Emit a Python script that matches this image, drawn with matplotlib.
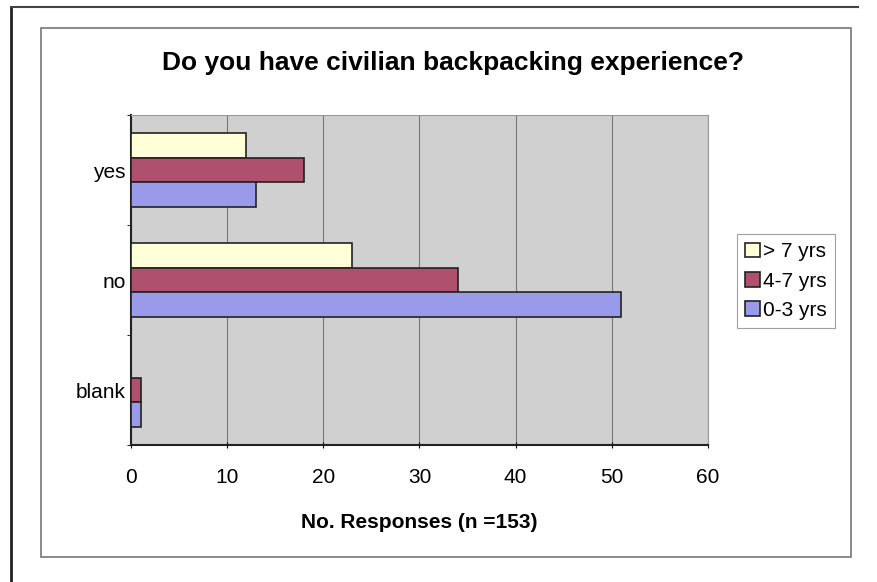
import numpy as np
import matplotlib.pyplot as plt
from matplotlib.patches import Rectangle
from matplotlib.lines import Line2D

categories = ["yes", "no", "blank"]
series_names = ["> 7 yrs", "4-7 yrs", "0-3 yrs"]
over_7 = [12, 23, 0]
yrs_4_7 = [18, 34, 1]
yrs_0_3 = [13, 51, 1]
colors = ["#FFFFD8", "#B0506F", "#9A9AEA"]

plt.rcParams['font.family'] = ['Liberation Sans', 'DejaVu Sans']

fig = plt.figure(figsize=(8.78, 5.82), dpi=100)

# outer frame and chart-area border
fig.add_artist(Line2D([11/878, 11/878], [0, 1 - 7/582], color="#222222", lw=2))
fig.add_artist(Line2D([11/878, 858/878], [1 - 7/582, 1 - 7/582], color="#444444", lw=1.5))
fig.add_artist(Rectangle((41/878, 1 - 557/582), (851 - 41)/878, (557 - 28)/582,
                         fill=False, ec="#777777", lw=1.2))

ax = fig.add_axes([131/878, 1 - 445/582, 577/878, 330/582])
ax.set_facecolor("#D0D0D0")

y = np.arange(len(categories))
h = 0.227
for i, (vals, name, c) in enumerate(zip([over_7, yrs_4_7, yrs_0_3], series_names, colors)):
    ax.barh(y + (i - 1) * h, vals, height=h, color=c, edgecolor="#222222",
            linewidth=1.2, label=name, zorder=3)

ax.set_ylim(2.5, -0.5)
ax.set_xlim(0, 60)
ax.set_xticks(range(0, 61, 10))
ax.set_yticks(y)
ax.set_yticklabels(categories)
ax.set_yticks([-0.5, 0.5, 1.5, 2.5], minor=True)
ax.tick_params(axis='y', which='major', length=0, pad=4, labelsize=15)
ax.tick_params(axis='y', which='minor', length=3, direction='out')
ax.tick_params(axis='x', length=5, direction='inout', pad=14, labelsize=15)
ax.grid(axis='x', color="#777777", lw=0.8, zorder=1)

for s in ["top", "right"]:
    ax.spines[s].set_color("#999999")
for s in ["left", "bottom"]:
    ax.spines[s].set_color("#222222")
    ax.spines[s].set_linewidth(1.5)

ax.set_xlabel("No. Responses (n =153)", fontsize=15, fontweight="bold", labelpad=19)

fig.text(453/878, 1 - 63/582, "Do you have civilian backpacking experience?",
         ha="center", va="center", fontsize=19, fontweight="bold")

leg = ax.legend(loc="center left", bbox_to_anchor=(737/878, 1 - 281/582),
                bbox_transform=fig.transFigure, fontsize=15, frameon=True,
                fancybox=False, edgecolor="#888888", handlelength=0.7,
                handleheight=0.7, handletextpad=0.15, borderpad=0.4,
                labelspacing=0.5, borderaxespad=0)
leg.get_frame().set_linewidth(0.8)

fig.savefig("out.png", dpi=100)
